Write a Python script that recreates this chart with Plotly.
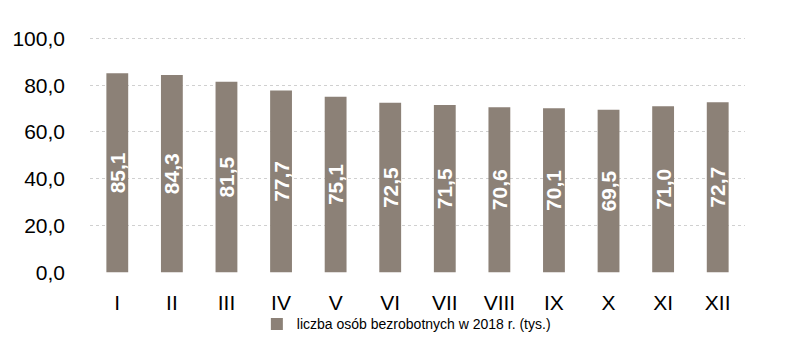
import plotly.graph_objects as go

months = ["I", "II", "III", "IV", "V", "VI", "VII", "VIII", "IX", "X", "XI", "XII"]
values = [85.1, 84.3, 81.5, 77.7, 75.1, 72.5, 71.5, 70.6, 70.1, 69.5, 71.0, 72.7]
series_name = "liczba osób bezrobotnych w 2018 r. (tys.)"
y_ticks = [0, 20, 40, 60, 80, 100]

fig = go.Figure()
fig.add_trace(go.Bar(
    x=months, y=values, name=series_name,
    marker=dict(color="#8C8177", line=dict(width=0)),
    texttemplate="<b>%{y:.1f}</b>",
    textposition="inside", insidetextanchor="middle",
    textangle=-90, constraintext="none",
    textfont=dict(family="Liberation Sans", size=21, color="white"),
    showlegend=True,
))

fig.update_layout(
    width=805, height=361,
    separators=", ",
    paper_bgcolor="white", plot_bgcolor="white",
    margin=dict(l=84.5, r=59.5, t=36.9, b=87.6),
    bargap=0.6,
    font=dict(family="Liberation Sans", color="#000000"),
    showlegend=True,
    legend=dict(orientation="h", x=0.483, xanchor="center", y=-0.15, yanchor="top",
                bgcolor="rgba(0,0,0,0)",
                font=dict(size=14, color="#000000"), itemwidth=30),
    xaxis=dict(showgrid=False, showline=False, ticks="", tickfont=dict(size=21),
               ticklabelstandoff=15),
    yaxis=dict(range=[-0.3, 100.6], tickvals=y_ticks, tickformat=".1f",
               showgrid=True, gridcolor="#D0D0D0", griddash="dot", gridwidth=1,
               zeroline=False, showline=False, ticks="", tickfont=dict(size=21),
               ticklabelstandoff=24),
)

fig.write_html("out.html", config={"displayModeBar": False},
               post_script="document.body.style.margin='0';")
